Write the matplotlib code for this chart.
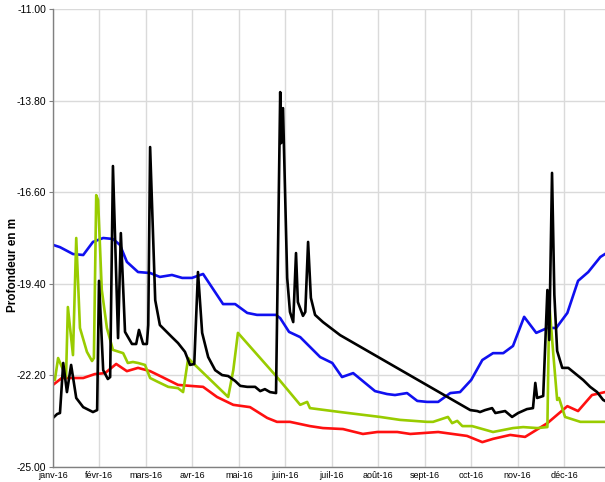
import matplotlib
matplotlib.use("Agg")
import matplotlib.pyplot as plt
from matplotlib.ticker import FormatStrFormatter

# months as x position (0 = janv-16), depth in m
month_labels = ["janv-16", "févr-16", "mars-16", "avr-16", "mai-16", "juin-16",
                "juil-16", "août-16", "sept-16", "oct-16", "nov-16", "déc-16"]

blue_x = [0, 0.15, 0.43, 0.65, 0.86, 1.08, 1.29, 1.44, 1.59, 1.83, 2.09, 2.30, 2.56,
          2.78, 2.99, 3.23, 3.66, 3.92, 4.18, 4.39, 4.80, 4.89, 5.08, 5.32, 5.75, 6.01,
          6.22, 6.46, 6.93, 7.19, 7.36, 7.62, 7.84, 8.05, 8.29, 8.55, 8.76, 9.00, 9.24,
          9.47, 9.69, 9.90, 10.14, 10.40, 10.64, 10.83, 11.07, 11.30, 11.52, 11.78, 11.88]
blue_y = [-18.21, -18.28, -18.49, -18.52, -18.12, -18.00, -18.03, -18.21, -18.73, -19.04,
          -19.07, -19.19, -19.13, -19.22, -19.22, -19.10, -20.02, -20.02, -20.29, -20.35,
          -20.35, -20.45, -20.87, -21.03, -21.64, -21.82, -22.25, -22.13, -22.68, -22.77,
          -22.80, -22.74, -22.98, -23.01, -23.01, -22.74, -22.71, -22.34, -21.73, -21.52,
          -21.52, -21.30, -20.41, -20.90, -20.75, -20.75, -20.29, -19.31, -19.04, -18.58,
          -18.49]

red_x = [0, 0.19, 0.65, 0.90, 1.12, 1.36, 1.59, 1.83, 2.09, 2.35, 2.69, 2.95, 3.23, 3.53,
         3.88, 4.24, 4.61, 4.82, 5.10, 5.53, 5.81, 6.24, 6.67, 6.98, 7.41, 7.69, 8.29,
         8.91, 9.24, 9.47, 9.84, 10.16, 10.64, 11.07, 11.30, 11.60, 11.88]
red_y = [-22.49, -22.28, -22.28, -22.16, -22.13, -21.85, -22.07, -21.97, -22.07, -22.25,
         -22.49, -22.52, -22.55, -22.86, -23.10, -23.17, -23.50, -23.62, -23.62, -23.75,
         -23.81, -23.84, -23.99, -23.93, -23.93, -23.99, -23.93, -24.05, -24.24, -24.14,
         -24.02, -24.08, -23.66, -23.14, -23.29, -22.80, -22.71]

green_x = [0, 0.04, 0.11, 0.22, 0.28, 0.32, 0.43, 0.50, 0.58, 0.73, 0.84, 0.88, 0.93,
           0.97, 1.05, 1.16, 1.29, 1.51, 1.61, 1.72, 1.83, 1.98, 2.09, 2.26, 2.48, 2.69,
           2.80, 2.91, 2.99, 3.77, 3.88, 3.98, 4.82, 5.32, 5.47, 5.53, 6.18, 7.04, 7.47,
           8.05, 8.18, 8.50, 8.59, 8.70, 8.81, 9.02, 9.47, 9.90, 10.12, 10.42, 10.64,
           10.68, 10.76, 10.85, 10.89, 11.02, 11.35, 11.88]
green_y = [-22.28, -22.34, -21.67, -22.04, -22.28, -20.11, -21.58, -18.00, -20.75, -21.48,
           -21.76, -21.67, -16.69, -16.84, -19.59, -20.75, -21.42, -21.52, -21.82, -21.79,
           -21.82, -21.88, -22.28, -22.40, -22.55, -22.59, -22.71, -21.67, -21.79, -22.86,
           -22.04, -20.90, -22.25, -23.10, -23.01, -23.20, -23.32, -23.47, -23.56, -23.62,
           -23.62, -23.47, -23.66, -23.59, -23.75, -23.75, -23.93, -23.81, -23.78, -23.81,
           -23.78, -19.99, -21.42, -22.95, -22.89, -23.47, -23.62, -23.62]

black_x = [0, 0.09, 0.15, 0.22, 0.30, 0.39, 0.50, 0.65, 0.86, 0.95, 0.99, 1.08, 1.18,
           1.23, 1.29, 1.40, 1.46, 1.55, 1.70, 1.79, 1.85, 1.94, 2.02, 2.05, 2.09, 2.20,
           2.30, 2.56, 2.69, 2.84, 2.95, 3.04, 3.12, 3.21, 3.34, 3.49, 3.64, 3.77, 3.92,
           4.03, 4.18, 4.35, 4.46, 4.56, 4.67, 4.80, 4.89, 4.91, 4.95, 5.04, 5.10, 5.17,
           5.23, 5.27, 5.38, 5.43, 5.49, 5.55, 5.64, 5.81, 6.18, 8.98, 9.13, 9.19, 9.30,
           9.45, 9.52, 9.73, 9.88, 10.01, 10.20, 10.33, 10.38, 10.42, 10.55, 10.64, 10.68,
           10.74, 10.79, 10.85, 10.96, 11.09, 11.28, 11.41, 11.56, 11.71, 11.84, 11.88]
black_y = [-23.50, -23.38, -23.35, -21.82, -22.71, -21.88, -22.89, -23.17, -23.32, -23.26,
           -19.31, -22.04, -22.31, -22.25, -15.80, -21.06, -17.85, -20.87, -21.24, -21.24,
           -20.81, -21.24, -21.24, -20.66, -15.22, -19.90, -20.66, -21.03, -21.21, -21.48,
           -21.88, -21.85, -19.04, -20.90, -21.64, -22.04, -22.19, -22.22, -22.37, -22.52,
           -22.55, -22.55, -22.68, -22.62, -22.71, -22.74, -13.54, -15.10, -14.03, -19.22,
           -20.26, -20.57, -18.46, -19.96, -20.38, -20.26, -18.12, -19.83, -20.35, -20.57,
           -20.97, -23.26, -23.29, -23.32, -23.26, -23.20, -23.35, -23.29, -23.47, -23.35,
           -23.23, -23.20, -22.43, -22.89, -22.83, -19.59, -21.12, -16.01, -19.74, -21.45,
           -21.97, -21.97, -22.19, -22.34, -22.55, -22.71, -22.95, -22.98]

y_ticks = [-11.0, -13.8, -16.6, -19.4, -22.2, -25.0]

plt.rcParams["font.family"] = ["Liberation Sans Narrow", "Liberation Sans", "DejaVu Sans"]

fig = plt.figure(figsize=(6.05, 4.82), dpi=100)
ax = fig.add_axes([53 / 605, 15 / 482, 552 / 605, 458 / 482])

lw = 1.9
ax.plot(blue_x, blue_y, color="#1010f0", lw=lw, solid_joinstyle="round")
ax.plot(red_x, red_y, color="#ff1010", lw=lw, solid_joinstyle="round")
ax.plot(green_x, green_y, color="#99cc00", lw=lw, solid_joinstyle="round")
ax.plot(black_x, black_y, color="black", lw=lw, solid_joinstyle="round")

ax.set_xlim(0, 11.88)
ax.set_ylim(-25, -11)
ax.set_xticks(range(len(month_labels)))
ax.set_xticklabels(month_labels, fontsize=6.5)
ax.set_yticks(y_ticks)
ax.yaxis.set_major_formatter(FormatStrFormatter("%.2f"))
ax.tick_params(axis="y", labelsize=7.5, length=3, color="#808080", pad=2)
ax.tick_params(axis="x", length=0, pad=3)

ax.grid(True, color="#dadada", lw=1)
ax.set_axisbelow(True)
for s in ["top", "right"]:
    ax.spines[s].set_visible(False)
for s in ["left", "bottom"]:
    ax.spines[s].set_color("#808080")
    ax.spines[s].set_linewidth(1)

fig.text(13 / 605, 0.45, "Profondeur en m", rotation=90, fontsize=8.5,
         fontweight="bold", family=["Liberation Sans", "DejaVu Sans"],
         ha="center", va="center")

fig.savefig("out.png", dpi=100)
